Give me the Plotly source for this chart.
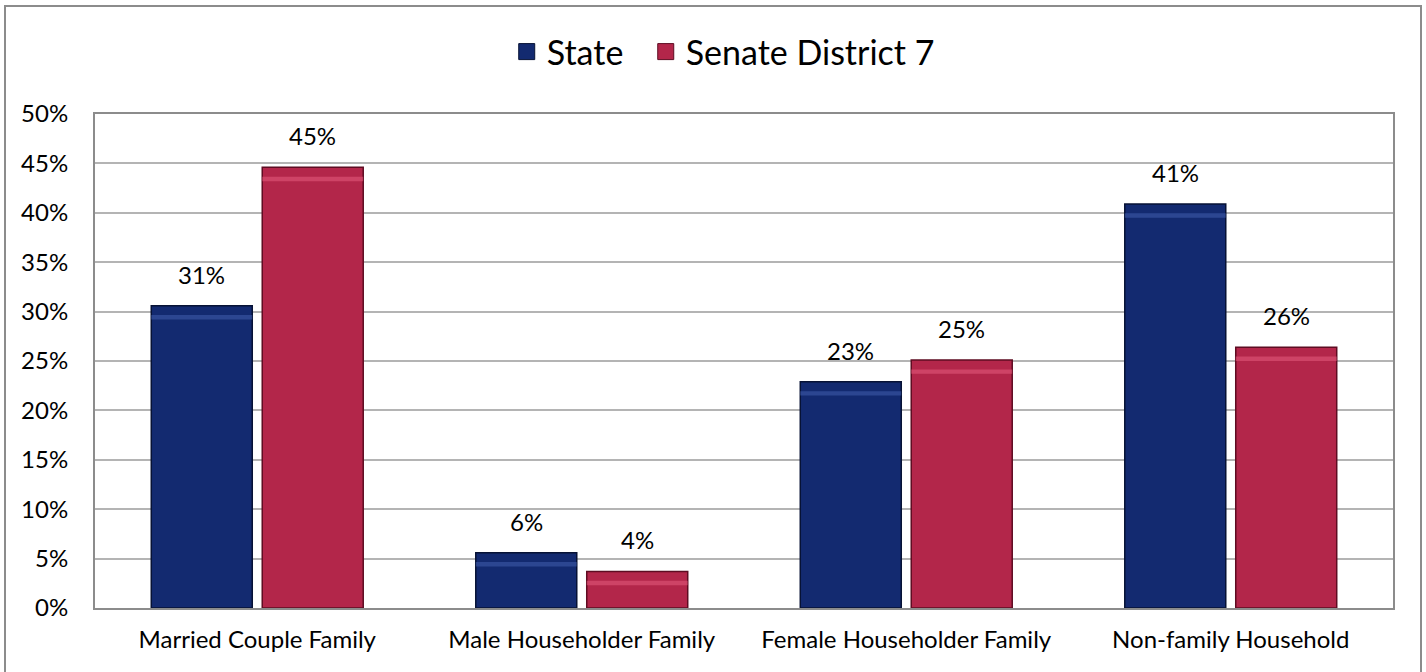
import plotly.graph_objects as go

categories = ["Married Couple Family", "Male Householder Family",
              "Female Householder Family", "Non-family Household"]
state = [30.6, 5.6, 22.9, 40.9]
district = [44.6, 3.7, 25.1, 26.4]
series_names = ["State", "Senate District 7"]
tick_vals = [0, 5, 10, 15, 20, 25, 30, 35, 40, 45, 50]
tick_text = ["0%", "5%", "10%", "15%", "20%", "25%", "30%", "35%", "40%", "45%", "50%"]

FONT = "Lato"
navy = "#132a70"
crimson = "#b3264a"

W, H = 1426, 672
ML, MR, MT, MB = 95, 33, 114, 64
plot_w = W - ML - MR
BARGAP, GROUPGAP = 0.316, 0.09
slot = plot_w / len(categories) * (1 - BARGAP) / 2

fig = go.Figure()
series = [(series_names[0], state, navy, "#071235", "#3d5aa6", -slot / 2),
          (series_names[1], district, crimson, "#5e0c22", "#e0567a", slot / 2)]
for i, (name, vals, col, edge, light, shift) in enumerate(series):
    fig.add_trace(go.Bar(
        x=categories, y=vals, name=name, showlegend=False, offsetgroup=str(i),
        marker=dict(color=col, line=dict(color=edge, width=1.5)),
    ))
    # bevel highlight just under the top edge
    fig.add_trace(go.Bar(
        x=categories, y=[0.45] * len(vals), base=[v - 1.4 for v in vals],
        showlegend=False, offsetgroup=str(i), hoverinfo="skip",
        marker=dict(color=light, opacity=0.6, line=dict(width=0)),
    ))
    # legend entry with a larger square swatch
    fig.add_trace(go.Scatter(
        x=[None], y=[None], mode="markers",
        name=name + ("\u00a0\u00a0" if i == 0 else ""),
        marker=dict(symbol="square", size=16, color=col,
                    line=dict(color=edge, width=1)),
    ))
    for c, v in zip(categories, vals):
        fig.add_annotation(x=c, y=v, text=f"{v:.0f}%", showarrow=False,
                           xshift=shift, yshift=15, yanchor="bottom",
                           font=dict(family=FONT, size=24, color="black"))

# outer chart border
fig.add_shape(type="rect", xref="paper", yref="paper",
              x0=(5 - ML) / plot_w, x1=(1421 - ML) / plot_w,
              y0=-0.14, y1=(H - MB - 6) / (H - MT - MB),
              line=dict(color="#8c8c8c", width=2), layer="below")

fig.update_layout(
    width=W, height=H,
    margin=dict(l=ML, r=MR, t=MT, b=MB, autoexpand=False),
    paper_bgcolor="white", plot_bgcolor="white",
    barmode="group", bargap=BARGAP, bargroupgap=GROUPGAP,
    font=dict(family=FONT, size=24, color="black"),
    legend=dict(orientation="h", x=0.484, xanchor="center",
                yref="container", y=1 - 52 / H, yanchor="middle",
                font=dict(family=FONT, size=34), bgcolor="rgba(0,0,0,0)",
                itemwidth=30, traceorder="normal"),
    showlegend=True,
)
fig.update_xaxes(showline=True, linecolor="#8c8c8c", linewidth=2, mirror=True,
                 ticks="", tickfont=dict(size=24), ticklabelstandoff=9)
fig.update_yaxes(range=[0, 50], tickvals=tick_vals, ticktext=tick_text,
                 showgrid=True, gridcolor="#b4b4b4", gridwidth=2,
                 showline=True, linecolor="#8c8c8c", linewidth=2, mirror=True,
                 zeroline=False, ticks="", tickfont=dict(size=24),
                 ticklabelstandoff=20)

fig.write_html("out.html", config={"displayModeBar": False},
               post_script="document.body.style.margin='0';")
